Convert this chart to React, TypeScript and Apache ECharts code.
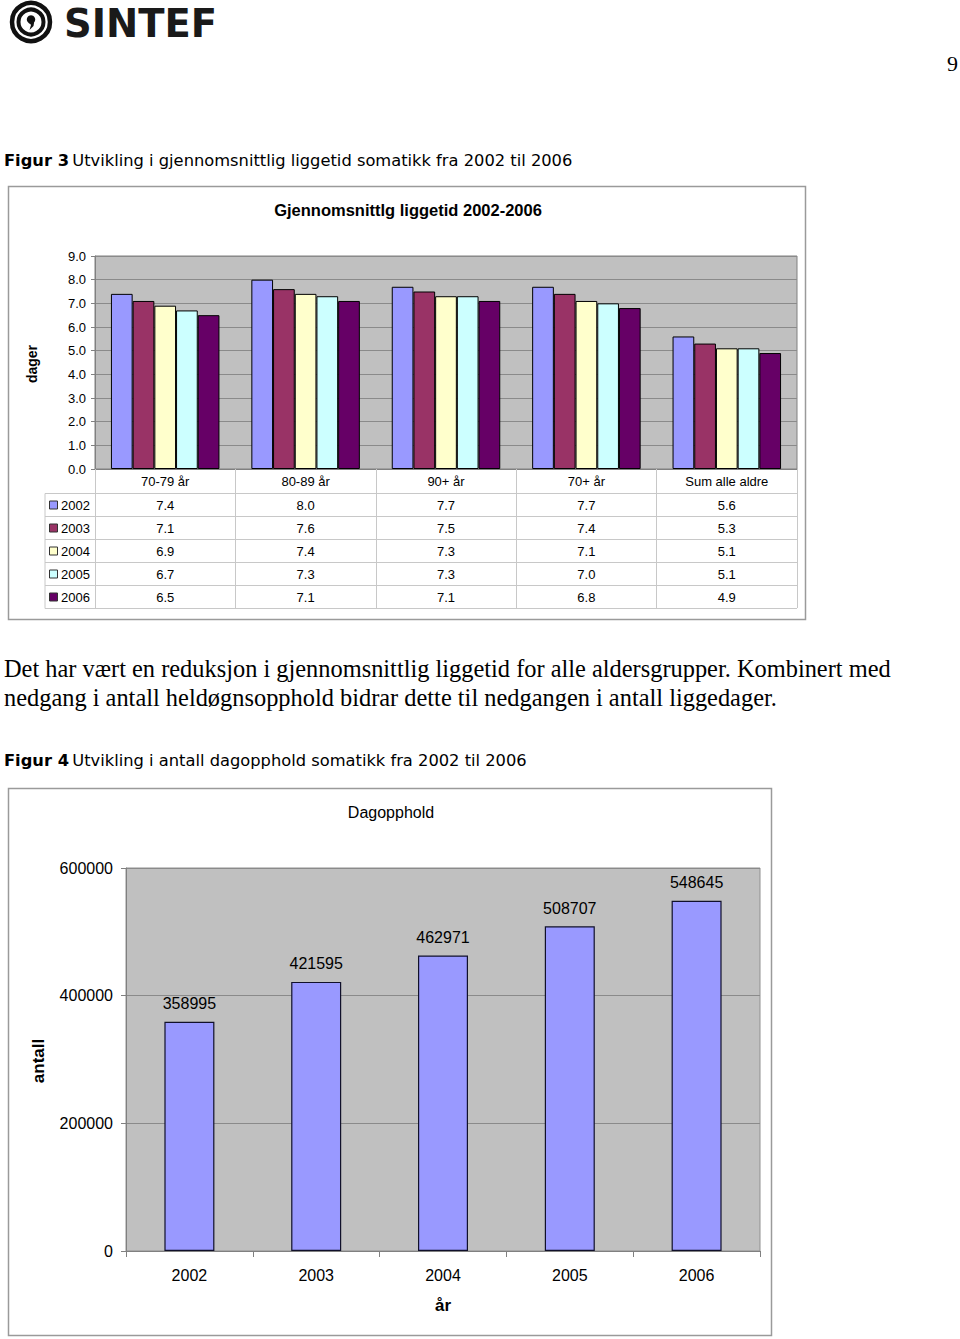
import React, { useEffect, useRef } from "react";
import * as echarts from "echarts";

// ---------- data ----------
const ageGroups = ["70-79 år", "80-89 år", "90+ år", "70+ år", "Sum alle aldre"];
const years1 = ["2002", "2003", "2004", "2005", "2006"];
const v2002 = [7.4, 8.0, 7.7, 7.7, 5.6];
const v2003 = [7.1, 7.6, 7.5, 7.4, 5.3];
const v2004 = [6.9, 7.4, 7.3, 7.1, 5.1];
const v2005 = [6.7, 7.3, 7.3, 7.0, 5.1];
const v2006 = [6.5, 7.1, 7.1, 6.8, 4.9];
const liggetid = [v2002, v2003, v2004, v2005, v2006];

const years2 = ["2002", "2003", "2004", "2005", "2006"];
const dagopphold = [358995, 421595, 462971, 508707, 548645];

// ---------- style ----------
const yearColors = ["#9999ff", "#993366", "#ffffcc", "#ccffff", "#660066"];
const SANS = "'Liberation Sans', Arial, sans-serif";
const SERIF = "'Liberation Serif', 'Times New Roman', serif";

// chart 1 geometry
const G1 = { left: 95, top: 256, width: 702, height: 213 };
const ROW_H = 23;
const TABLE_TOP = G1.top + G1.height + 24.5; // first line under header row
const LEG_LEFT = 45;

// chart 2 geometry
const G2 = { left: 126, top: 868, width: 634, height: 383 };

export default function App() {
  const ref = useRef<HTMLDivElement>(null);

  useEffect(() => {
    if (!ref.current) return;
    const chart = echarts.init(ref.current, null, { renderer: "svg", width: 960, height: 1339 });

    const graphics: any[] = [];

    // ---- logo ----
    graphics.push(
      { type: "circle", shape: { cx: 31, cy: 22, r: 19 }, style: { fill: "none", stroke: "#111", lineWidth: 4.5 } },
      { type: "circle", shape: { cx: 31, cy: 22, r: 12.5 }, style: { fill: "none", stroke: "#111", lineWidth: 4 } },
      { type: "circle", shape: { cx: 31, cy: 19.5, r: 4.2 }, style: { fill: "#111" } },
      {
        type: "polygon",
        shape: { points: [[34.5, 20], [33.5, 26], [29.5, 30], [31, 25], [28, 21]] },
        style: { fill: "#111" },
      },
      {
        type: "text",
        x: 64,
        y: 23,
        style: {
          text: "SINTEF",
          fontFamily: "'DejaVu Sans', sans-serif",
          fontWeight: 900,
          fontSize: 38.5,
          fill: "#1a1a1a",
          verticalAlign: "middle",
        },
      }
    );

    // page number
    graphics.push({
      type: "text",
      x: 958,
      y: 63,
      style: { text: "9", fontFamily: SERIF, fontSize: 22, fill: "#000", align: "right", verticalAlign: "middle" },
    });

    // captions
    const caption = (label: string, rest: string, y: number) => ({
      type: "text",
      x: 4,
      y,
      style: {
        text: `{b|${label}} {n|${rest}}`,
        verticalAlign: "middle",
        rich: {
          b: { fontFamily: "'DejaVu Sans', sans-serif", fontWeight: "bold", fontSize: 16.3, fill: "#000" },
          n: { fontFamily: "'DejaVu Sans', sans-serif", fontSize: 16.3, fill: "#000" },
        },
      },
    });
    graphics.push(caption("Figur 3", "Utvikling i gjennomsnittlig liggetid somatikk fra 2002 til 2006", 160));
    graphics.push(caption("Figur 4", "Utvikling i antall dagopphold somatikk fra 2002 til 2006", 760));

    // body text
    graphics.push(
      {
        type: "text",
        x: 4,
        y: 668,
        style: {
          text: "Det har vært en reduksjon i gjennomsnittlig liggetid for alle aldersgrupper. Kombinert med",
          fontFamily: SERIF,
          fontSize: 24.4,
          fill: "#000",
          verticalAlign: "middle",
        },
      },
      {
        type: "text",
        x: 4,
        y: 697,
        style: {
          text: "nedgang i antall heldøgnsopphold bidrar dette til nedgangen i antall liggedager.",
          fontFamily: SERIF,
          fontSize: 24.4,
          fill: "#000",
          verticalAlign: "middle",
        },
      }
    );

    // outer frames
    graphics.push(
      { type: "rect", shape: { x: 8.5, y: 186.5, width: 797, height: 433 }, style: { fill: "none", stroke: "#9a9a9a", lineWidth: 1.5 } },
      { type: "rect", shape: { x: 8.5, y: 788.5, width: 763, height: 547 }, style: { fill: "none", stroke: "#9a9a9a", lineWidth: 1.5 } }
    );

    // chart 1 texts
    graphics.push(
      {
        type: "text",
        x: 408,
        y: 210,
        style: { text: "Gjennomsnittlg liggetid 2002-2006", fontFamily: SANS, fontWeight: "bold", fontSize: 16.5, fill: "#000", align: "center", verticalAlign: "middle" },
      },
      {
        type: "text",
        x: 32,
        y: 364,
        rotation: Math.PI / 2,
        style: { text: "dager", fontFamily: SANS, fontWeight: "bold", fontSize: 14, fill: "#000", align: "center", verticalAlign: "middle" },
      }
    );

    // chart 1 data table
    const tableRight = G1.left + G1.width;
    const catW = G1.width / ageGroups.length;
    for (let r = 0; r <= years1.length; r++) {
      const y = TABLE_TOP + r * ROW_H;
      graphics.push({ type: "line", shape: { x1: LEG_LEFT, y1: y, x2: tableRight, y2: y }, style: { stroke: "#c8c8c8", lineWidth: 1 } });
    }
    graphics.push({
      type: "line",
      shape: { x1: LEG_LEFT, y1: TABLE_TOP, x2: LEG_LEFT, y2: TABLE_TOP + years1.length * ROW_H },
      style: { stroke: "#c8c8c8", lineWidth: 1 },
    });
    years1.forEach((yr, i) => {
      const cy = TABLE_TOP + (i + 0.5) * ROW_H;
      graphics.push(
        { type: "rect", shape: { x: 49.5, y: cy - 4, width: 8, height: 8 }, style: { fill: yearColors[i], stroke: "#333", lineWidth: 1 } },
        { type: "text", x: 61, y: cy, style: { text: yr, fontFamily: SANS, fontSize: 13, fill: "#000", verticalAlign: "middle" } }
      );
      liggetid[i].forEach((v, k) => {
        graphics.push({
          type: "text",
          x: G1.left + (k + 0.5) * catW,
          y: cy,
          style: { text: v.toFixed(1), fontFamily: SANS, fontSize: 13, fill: "#000", align: "center", verticalAlign: "middle" },
        });
      });
    });

    // chart 2 texts
    graphics.push(
      {
        type: "text",
        x: 391,
        y: 812,
        style: { text: "Dagopphold", fontFamily: SANS, fontSize: 16, fill: "#000", align: "center", verticalAlign: "middle" },
      },
      {
        type: "text",
        x: 38,
        y: 1061,
        rotation: Math.PI / 2,
        style: { text: "antall", fontFamily: SANS, fontWeight: "bold", fontSize: 17, fill: "#000", align: "center", verticalAlign: "middle" },
      },
      {
        type: "text",
        x: G2.left + G2.width / 2,
        y: 1305,
        style: { text: "år", fontFamily: SANS, fontWeight: "bold", fontSize: 17, fill: "#000", align: "center", verticalAlign: "middle" },
      }
    );

    const option: any = {
      animation: false,
      backgroundColor: "#ffffff",
      grid: [
        { ...G1, show: true, backgroundColor: "#c0c0c0", borderColor: "#808080", borderWidth: 1 },
        { ...G2, show: true, backgroundColor: "#c0c0c0", borderColor: "#909090", borderWidth: 1 },
      ],
      xAxis: [
        {
          type: "category",
          gridIndex: 0,
          data: ageGroups,
          axisLine: { lineStyle: { color: "#808080", width: 1 } },
          axisTick: { show: true, length: 139, interval: 0, lineStyle: { color: "#c8c8c8" } },
          axisLabel: { interval: 0, margin: 6, fontFamily: SANS, fontSize: 13, color: "#000" },
        },
        {
          type: "category",
          gridIndex: 1,
          data: years2,
          axisLine: { lineStyle: { color: "#808080", width: 1 } },
          axisTick: { show: true, length: 6, interval: 0, lineStyle: { color: "#808080" } },
          axisLabel: { interval: 0, margin: 16, fontFamily: SANS, fontSize: 16, color: "#000" },
        },
      ],
      yAxis: [
        {
          type: "value",
          gridIndex: 0,
          min: 0,
          max: 9,
          interval: 1,
          axisLine: { show: true, lineStyle: { color: "#808080" } },
          axisTick: { show: true, length: 4, lineStyle: { color: "#808080" } },
          axisLabel: { margin: 9, fontFamily: SANS, fontSize: 13, color: "#000", formatter: (v: number) => v.toFixed(1) },
          splitLine: { show: true, lineStyle: { color: "#8a8a8a", width: 1 } },
        },
        {
          type: "value",
          gridIndex: 1,
          min: 0,
          max: 600000,
          interval: 200000,
          axisLine: { show: true, lineStyle: { color: "#808080" } },
          axisTick: { show: true, length: 5, lineStyle: { color: "#808080" } },
          axisLabel: { margin: 13, fontFamily: SANS, fontSize: 16, color: "#000", formatter: (v: number) => String(v) },
          splitLine: { show: true, lineStyle: { color: "#8a8a8a", width: 1 } },
        },
      ],
      series: [
        ...years1.map((yr, i) => ({
          type: "bar",
          name: yr,
          xAxisIndex: 0,
          yAxisIndex: 0,
          data: liggetid[i],
          barWidth: 21.7,
          barGap: "0%",
          itemStyle: { color: yearColors[i], borderColor: "#000", borderWidth: 1 },
        })),
        {
          type: "bar",
          name: "Dagopphold",
          xAxisIndex: 1,
          yAxisIndex: 1,
          data: dagopphold,
          barWidth: 50,
          itemStyle: { color: "#9999ff", borderColor: "#10102a", borderWidth: 1.2 },
          label: { show: true, position: "top", distance: 10, fontFamily: SANS, fontSize: 16, color: "#000" },
        },
      ],
      graphic: { elements: graphics },
    };

    chart.setOption(option);
    return () => chart.dispose();
  }, []);

  return (
    <div
      ref={ref}
      style={{ position: "absolute", left: 0, top: 0, width: 960, height: 1339, background: "#fff" }}
    />
  );
}
